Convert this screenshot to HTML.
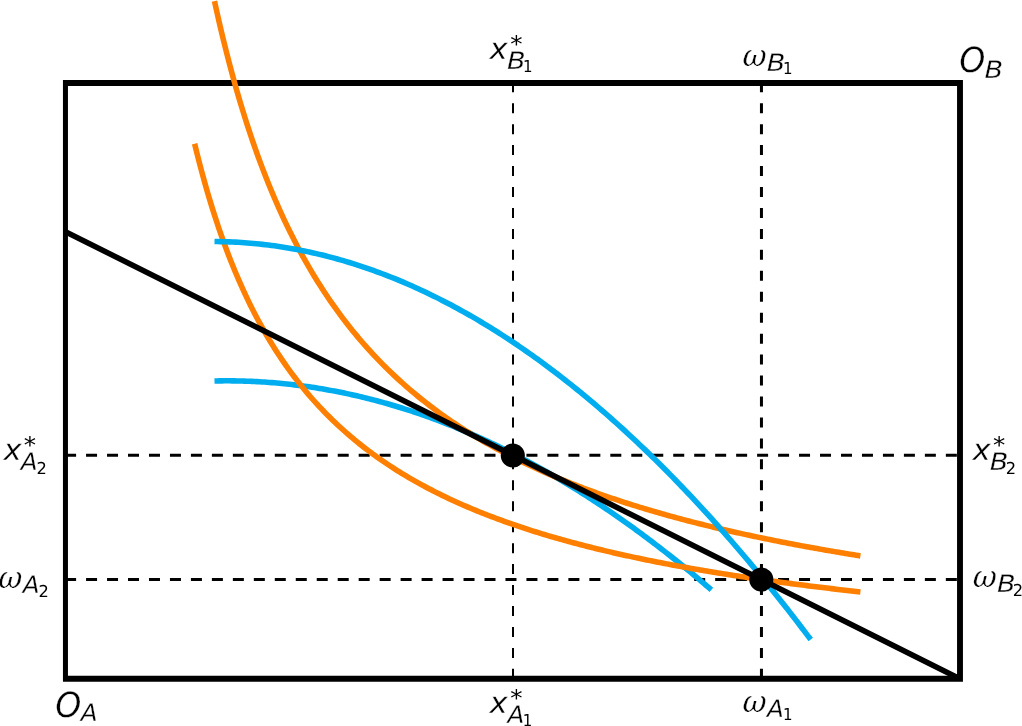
<!DOCTYPE html>
<html><head><meta charset="utf-8"><style>
html,body{margin:0;padding:0;background:#fff;width:1022px;height:726px;overflow:hidden}
svg{display:block;will-change:transform;text-rendering:geometricPrecision}

.c{fill:none;stroke-width:5.56;stroke-linejoin:round;stroke-linecap:butt}
text{font-family:"DejaVu Sans","Liberation Sans",sans-serif;fill:#000;stroke:#fff;stroke-width:0.3}
</style></head><body>
<svg width="1022" height="726" viewBox="0 0 1022 726">
<path d="M65.1,455.35H960" stroke="#000" stroke-width="3" stroke-dasharray="11 9.97" fill="none"/>
<path d="M65.1,579.4H960" stroke="#000" stroke-width="3" stroke-dasharray="11 9.97" fill="none"/>
<path d="M513,678.85V83" stroke="#000" stroke-width="2" stroke-dasharray="10 10.95" fill="none"/>
<path d="M761.45,678.85V83" stroke="#000" stroke-width="3" stroke-dasharray="10 10.95" fill="none"/>
<path d="M62.95,80.0H962.95V681.85H62.95Z M67.95,86.0V675.85H957.05V86.0Z" fill="#000" fill-rule="evenodd"/>
<path d="M214.50,380.97 L217.00,380.92 L219.50,380.88 L222.00,380.85 L224.49,380.83 L226.99,380.83 L229.49,380.83 L231.98,380.85 L234.48,380.88 L236.98,380.92 L239.47,380.97 L241.97,381.03 L244.47,381.10 L246.96,381.18 L249.46,381.27 L251.96,381.38 L254.45,381.50 L256.95,381.62 L259.45,381.76 L261.94,381.91 L264.44,382.07 L266.94,382.24 L269.43,382.43 L271.93,382.62 L274.43,382.83 L276.92,383.04 L279.42,383.27 L281.92,383.51 L284.41,383.76 L286.91,384.02 L289.41,384.29 L291.90,384.57 L294.40,384.87 L296.90,385.17 L299.39,385.49 L301.89,385.81 L304.39,386.15 L306.88,386.50 L309.38,386.86 L311.88,387.24 L314.37,387.62 L316.87,388.01 L319.37,388.42 L321.86,388.83 L324.36,389.26 L326.86,389.70 L329.35,390.15 L331.85,390.61 L334.35,391.08 L336.84,391.56 L339.34,392.06 L341.84,392.56 L344.34,393.08 L346.83,393.61 L349.33,394.14 L351.83,394.69 L354.32,395.26 L356.82,395.83 L359.32,396.41 L361.81,397.00 L364.31,397.61 L366.81,398.22 L369.30,398.85 L371.80,399.49 L374.30,400.14 L376.79,400.80 L379.29,401.47 L381.79,402.16 L384.28,402.85 L386.78,403.55 L389.28,404.27 L391.77,405.00 L394.27,405.74 L396.77,406.49 L399.26,407.25 L401.76,408.02 L404.26,408.80 L406.75,409.59 L409.25,410.40 L411.75,411.22 L414.24,412.04 L416.74,412.88 L419.24,413.73 L421.73,414.59 L424.23,415.46 L426.73,416.35 L429.22,417.24 L431.72,418.15 L434.22,419.06 L436.71,419.99 L439.21,420.93 L441.71,421.88 L444.20,422.84 L446.70,423.81 L449.20,424.79 L451.69,425.79 L454.19,426.79 L456.69,427.81 L459.18,428.83 L461.68,429.87 L464.18,430.92 L466.68,431.98 L469.17,433.05 L471.67,434.14 L474.17,435.23 L476.66,436.34 L479.16,437.45 L481.66,438.58 L484.15,439.72 L486.65,440.87 L489.15,442.03 L491.64,443.20 L494.14,444.38 L496.64,445.58 L499.13,446.78 L501.63,448.00 L504.13,449.22 L506.62,450.46 L509.12,451.71 L511.62,452.97 L514.11,454.24 L516.61,455.53 L519.11,456.82 L521.60,458.13 L524.10,459.44 L526.60,460.77 L529.09,462.11 L531.59,463.46 L534.09,464.82 L536.58,466.19 L539.08,467.57 L541.58,468.97 L544.07,470.37 L546.57,471.79 L549.07,473.21 L551.56,474.65 L554.06,476.10 L556.56,477.56 L559.05,479.03 L561.55,480.52 L564.05,482.01 L566.54,483.52 L569.04,485.03 L571.54,486.56 L574.03,488.10 L576.53,489.65 L579.03,491.21 L581.52,492.78 L584.02,494.36 L586.52,495.96 L589.02,497.56 L591.51,499.18 L594.01,500.80 L596.51,502.44 L599.00,504.09 L601.50,505.75 L604.00,507.42 L606.49,509.11 L608.99,510.80 L611.49,512.51 L613.98,514.22 L616.48,515.95 L618.98,517.69 L621.47,519.44 L623.97,521.20 L626.47,522.97 L628.96,524.75 L631.46,526.55 L633.96,528.35 L636.45,530.17 L638.95,531.99 L641.45,533.83 L643.94,535.68 L646.44,537.54 L648.94,539.41 L651.43,541.30 L653.93,543.19 L656.43,545.10 L658.92,547.01 L661.42,548.94 L663.92,550.88 L666.41,552.83 L668.91,554.79 L671.41,556.76 L673.90,558.74 L676.40,560.74 L678.90,562.74 L681.39,564.76 L683.89,566.78 L686.39,568.82 L688.88,570.87 L691.38,572.93 L693.88,575.00 L696.37,577.09 L698.87,579.18 L701.37,581.29 L703.86,583.40 L706.36,585.53 L708.86,587.67 L711.36,589.82" stroke="#00AEEF" class="c"/>
<path d="M194.63,143.78 L196.86,152.85 L199.08,161.61 L201.31,170.09 L203.54,178.29 L205.76,186.24 L207.99,193.93 L210.22,201.39 L212.44,208.62 L214.67,215.64 L216.90,222.45 L219.12,229.06 L221.35,235.49 L223.58,241.73 L225.80,247.80 L228.03,253.70 L230.26,259.45 L232.48,265.04 L234.71,270.48 L236.94,275.79 L239.16,280.95 L241.39,285.99 L243.62,290.90 L245.84,295.69 L248.07,300.36 L250.30,304.92 L252.52,309.37 L254.75,313.71 L256.98,317.96 L259.20,322.11 L261.43,326.16 L263.66,330.12 L265.88,334.00 L268.11,337.79 L270.34,341.49 L272.56,345.12 L274.79,348.67 L277.02,352.14 L279.25,355.55 L281.47,358.88 L283.70,362.14 L285.93,365.34 L288.15,368.48 L290.38,371.55 L292.61,374.56 L294.83,377.52 L297.06,380.41 L299.29,383.25 L301.51,386.04 L303.74,388.78 L305.97,391.46 L308.19,394.10 L310.42,396.69 L312.65,399.23 L314.87,401.73 L317.10,404.18 L319.33,406.59 L321.55,408.95 L323.78,411.28 L326.01,413.57 L328.23,415.82 L330.46,418.03 L332.69,420.20 L334.91,422.34 L337.14,424.44 L339.37,426.51 L341.59,428.54 L343.82,430.54 L346.05,432.51 L348.27,434.45 L350.50,436.36 L352.73,438.24 L354.95,440.09 L357.18,441.92 L359.41,443.71 L361.63,445.48 L363.86,447.22 L366.09,448.93 L368.31,450.63 L370.54,452.29 L372.77,453.93 L374.99,455.55 L377.22,457.15 L379.45,458.72 L381.67,460.27 L383.90,461.80 L386.13,463.30 L388.35,464.79 L390.58,466.26 L392.81,467.70 L395.03,469.13 L397.26,470.54 L399.49,471.92 L401.71,473.29 L403.94,474.65 L406.17,475.98 L408.39,477.30 L410.62,478.60 L412.85,479.88 L415.07,481.15 L417.30,482.40 L419.53,483.64 L421.75,484.86 L423.98,486.06 L426.21,487.25 L428.43,488.43 L430.66,489.59 L432.89,490.73 L435.11,491.87 L437.34,492.99 L439.57,494.09 L441.79,495.19 L444.02,496.27 L446.25,497.33 L448.47,498.39 L450.70,499.43 L452.93,500.46 L455.15,501.48 L457.38,502.49 L459.61,503.49 L461.83,504.47 L464.06,505.45 L466.29,506.41 L468.51,507.36 L470.74,508.30 L472.97,509.24 L475.19,510.16 L477.42,511.07 L479.65,511.97 L481.87,512.86 L484.10,513.75 L486.33,514.62 L488.55,515.48 L490.78,516.34 L493.01,517.19 L495.23,518.02 L497.46,518.85 L499.69,519.67 L501.91,520.48 L504.14,521.29 L506.37,522.08 L508.59,522.87 L510.82,523.65 L513.05,524.42 L515.27,525.19 L517.50,525.94 L519.73,526.69 L521.95,527.44 L524.18,528.17 L526.41,528.90 L528.63,529.62 L530.86,530.33 L533.09,531.04 L535.31,531.74 L537.54,532.44 L539.77,533.12 L541.99,533.80 L544.22,534.48 L546.45,535.15 L548.67,535.81 L550.90,536.47 L553.13,537.12 L555.35,537.76 L557.58,538.40 L559.81,539.03 L562.03,539.66 L564.26,540.28 L566.49,540.89 L568.71,541.51 L570.94,542.11 L573.17,542.71 L575.39,543.30 L577.62,543.89 L579.85,544.48 L582.07,545.06 L584.30,545.63 L586.53,546.20 L588.75,546.76 L590.98,547.32 L593.21,547.88 L595.43,548.43 L597.66,548.98 L599.89,549.52 L602.11,550.05 L604.34,550.59 L606.57,551.11 L608.79,551.64 L611.02,552.16 L613.25,552.67 L615.47,553.18 L617.70,553.69 L619.93,554.19 L622.15,554.69 L624.38,555.18 L626.61,555.67 L628.83,556.16 L631.06,556.64 L633.29,557.12 L635.51,557.60 L637.74,558.07 L639.97,558.54 L642.19,559.00 L644.42,559.46 L646.65,559.92 L648.87,560.38 L651.10,560.83 L653.33,561.27 L655.55,561.72 L657.78,562.16 L660.01,562.59 L662.23,563.03 L664.46,563.46 L666.69,563.89 L668.92,564.31 L671.14,564.73 L673.37,565.15 L675.60,565.56 L677.82,565.98 L680.05,566.39 L682.28,566.79 L684.50,567.19 L686.73,567.59 L688.96,567.99 L691.18,568.39 L693.41,568.78 L695.64,569.17 L697.86,569.55 L700.09,569.94 L702.32,570.32 L704.54,570.70 L706.77,571.07 L709.00,571.44 L711.22,571.81 L713.45,572.18 L715.68,572.55 L717.90,572.91 L720.13,573.27 L722.36,573.63 L724.58,573.98 L726.81,574.34 L729.04,574.69 L731.26,575.04 L733.49,575.38 L735.72,575.73 L737.94,576.07 L740.17,576.41 L742.40,576.74 L744.62,577.08 L746.85,577.41 L749.08,577.74 L751.30,578.07 L753.53,578.40 L755.76,578.72 L757.98,579.04 L760.21,579.36 L762.44,579.68 L764.66,579.99 L766.89,580.31 L769.12,580.62 L771.34,580.93 L773.57,581.24 L775.80,581.54 L778.02,581.85 L780.25,582.15 L782.48,582.45 L784.70,582.75 L786.93,583.05 L789.16,583.34 L791.38,583.63 L793.61,583.92 L795.84,584.21 L798.06,584.50 L800.29,584.79 L802.52,585.07 L804.74,585.35 L806.97,585.63 L809.20,585.91 L811.42,586.19 L813.65,586.47 L815.88,586.74 L818.10,587.01 L820.33,587.28 L822.56,587.55 L824.78,587.82 L827.01,588.09 L829.24,588.35 L831.46,588.62 L833.69,588.88 L835.92,589.14 L838.14,589.40 L840.37,589.65 L842.60,589.91 L844.82,590.16 L847.05,590.42 L849.28,590.67 L851.50,590.92 L853.73,591.16 L855.96,591.41 L858.18,591.66 L860.41,591.90" stroke="#FF7F00" class="c"/>
<path d="M214.50,1.17 L216.67,10.99 L218.83,20.53 L220.99,29.81 L223.15,38.83 L225.31,47.60 L227.47,56.14 L229.63,64.46 L231.79,72.55 L233.95,80.44 L236.11,88.13 L238.27,95.62 L240.43,102.93 L242.59,110.06 L244.75,117.01 L246.91,123.80 L249.07,130.43 L251.23,136.90 L253.39,143.23 L255.55,149.41 L257.71,155.45 L259.87,161.35 L262.03,167.13 L264.19,172.77 L266.35,178.30 L268.51,183.71 L270.67,189.00 L272.83,194.18 L274.99,199.26 L277.15,204.23 L279.31,209.10 L281.47,213.87 L283.63,218.55 L285.79,223.13 L287.95,227.63 L290.11,232.03 L292.27,236.36 L294.43,240.60 L296.59,244.76 L298.75,248.85 L300.91,252.85 L303.07,256.79 L305.23,260.65 L307.39,264.45 L309.55,268.18 L311.71,271.84 L313.88,275.44 L316.04,278.97 L318.20,282.45 L320.36,285.86 L322.52,289.22 L324.68,292.52 L326.84,295.77 L329.00,298.96 L331.16,302.10 L333.32,305.19 L335.48,308.23 L337.64,311.22 L339.80,314.16 L341.96,317.06 L344.12,319.92 L346.28,322.72 L348.44,325.49 L350.60,328.21 L352.76,330.89 L354.92,333.54 L357.08,336.14 L359.24,338.70 L361.40,341.23 L363.56,343.72 L365.72,346.17 L367.88,348.59 L370.04,350.97 L372.20,353.32 L374.36,355.64 L376.52,357.93 L378.68,360.18 L380.84,362.40 L383.00,364.59 L385.16,366.75 L387.32,368.89 L389.48,370.99 L391.64,373.07 L393.80,375.11 L395.96,377.14 L398.12,379.13 L400.28,381.10 L402.44,383.04 L404.60,384.96 L406.76,386.86 L408.92,388.73 L411.08,390.57 L413.25,392.40 L415.41,394.20 L417.57,395.98 L419.73,397.74 L421.89,399.47 L424.05,401.19 L426.21,402.88 L428.37,404.56 L430.53,406.21 L432.69,407.84 L434.85,409.46 L437.01,411.05 L439.17,412.63 L441.33,414.19 L443.49,415.73 L445.65,417.26 L447.81,418.76 L449.97,420.25 L452.13,421.73 L454.29,423.18 L456.45,424.62 L458.61,426.05 L460.77,427.46 L462.93,428.85 L465.09,430.23 L467.25,431.59 L469.41,432.94 L471.57,434.27 L473.73,435.59 L475.89,436.90 L478.05,438.19 L480.21,439.47 L482.37,440.74 L484.53,441.99 L486.69,443.23 L488.85,444.45 L491.01,445.67 L493.17,446.87 L495.33,448.06 L497.49,449.24 L499.65,450.40 L501.81,451.56 L503.97,452.70 L506.13,453.83 L508.29,454.95 L510.45,456.06 L512.62,457.16 L514.78,458.25 L516.94,459.33 L519.10,460.39 L521.26,461.45 L523.42,462.50 L525.58,463.53 L527.74,464.56 L529.90,465.58 L532.06,466.59 L534.22,467.59 L536.38,468.58 L538.54,469.56 L540.70,470.53 L542.86,471.49 L545.02,472.45 L547.18,473.39 L549.34,474.33 L551.50,475.26 L553.66,476.18 L555.82,477.09 L557.98,477.99 L560.14,478.89 L562.30,479.78 L564.46,480.66 L566.62,481.53 L568.78,482.40 L570.94,483.26 L573.10,484.11 L575.26,484.95 L577.42,485.79 L579.58,486.62 L581.74,487.44 L583.90,488.25 L586.06,489.06 L588.22,489.86 L590.38,490.66 L592.54,491.45 L594.70,492.23 L596.86,493.01 L599.02,493.78 L601.18,494.54 L603.34,495.30 L605.50,496.05 L607.66,496.79 L609.82,497.53 L611.99,498.26 L614.15,498.99 L616.31,499.71 L618.47,500.43 L620.63,501.14 L622.79,501.84 L624.95,502.54 L627.11,503.24 L629.27,503.93 L631.43,504.61 L633.59,505.29 L635.75,505.96 L637.91,506.63 L640.07,507.29 L642.23,507.95 L644.39,508.60 L646.55,509.25 L648.71,509.89 L650.87,510.53 L653.03,511.17 L655.19,511.79 L657.35,512.42 L659.51,513.04 L661.67,513.65 L663.83,514.26 L665.99,514.87 L668.15,515.47 L670.31,516.07 L672.47,516.66 L674.63,517.25 L676.79,517.84 L678.95,518.42 L681.11,519.00 L683.27,519.57 L685.43,520.14 L687.59,520.70 L689.75,521.26 L691.91,521.82 L694.07,522.37 L696.23,522.92 L698.39,523.47 L700.55,524.01 L702.71,524.55 L704.87,525.08 L707.03,525.61 L709.19,526.14 L711.36,526.66 L713.52,527.18 L715.68,527.70 L717.84,528.21 L720.00,528.72 L722.16,529.23 L724.32,529.73 L726.48,530.23 L728.64,530.73 L730.80,531.22 L732.96,531.71 L735.12,532.20 L737.28,532.68 L739.44,533.16 L741.60,533.64 L743.76,534.11 L745.92,534.59 L748.08,535.05 L750.24,535.52 L752.40,535.98 L754.56,536.44 L756.72,536.90 L758.88,537.35 L761.04,537.80 L763.20,538.25 L765.36,538.70 L767.52,539.14 L769.68,539.58 L771.84,540.02 L774.00,540.45 L776.16,540.88 L778.32,541.31 L780.48,541.74 L782.64,542.16 L784.80,542.58 L786.96,543.00 L789.12,543.42 L791.28,543.83 L793.44,544.25 L795.60,544.65 L797.76,545.06 L799.92,545.47 L802.08,545.87 L804.24,546.27 L806.40,546.66 L808.56,547.06 L810.73,547.45 L812.89,547.84 L815.05,548.23 L817.21,548.61 L819.37,549.00 L821.53,549.38 L823.69,549.76 L825.85,550.14 L828.01,550.51 L830.17,550.88 L832.33,551.25 L834.49,551.62 L836.65,551.99 L838.81,552.35 L840.97,552.71 L843.13,553.08 L845.29,553.43 L847.45,553.79 L849.61,554.14 L851.77,554.50 L853.93,554.85 L856.09,555.20 L858.25,555.54 L860.41,555.89" stroke="#FF7F00" class="c"/>
<path d="M214.50,241.54 L217.50,241.57 L220.50,241.62 L223.49,241.68 L226.49,241.77 L229.49,241.88 L232.48,242.00 L235.48,242.15 L238.47,242.32 L241.47,242.50 L244.47,242.71 L247.46,242.94 L250.46,243.18 L253.45,243.45 L256.45,243.73 L259.45,244.04 L262.44,244.37 L265.44,244.71 L268.43,245.08 L271.43,245.46 L274.43,245.87 L277.42,246.29 L280.42,246.74 L283.41,247.21 L286.41,247.69 L289.41,248.20 L292.40,248.72 L295.40,249.27 L298.40,249.83 L301.39,250.42 L304.39,251.02 L307.38,251.65 L310.38,252.29 L313.38,252.96 L316.37,253.64 L319.37,254.35 L322.36,255.07 L325.36,255.82 L328.36,256.58 L331.35,257.36 L334.35,258.17 L337.34,258.99 L340.34,259.84 L343.34,260.70 L346.33,261.58 L349.33,262.49 L352.32,263.41 L355.32,264.36 L358.32,265.32 L361.31,266.30 L364.31,267.31 L367.31,268.33 L370.30,269.37 L373.30,270.44 L376.29,271.52 L379.29,272.62 L382.29,273.75 L385.28,274.89 L388.28,276.05 L391.27,277.24 L394.27,278.44 L397.27,279.66 L400.26,280.91 L403.26,282.17 L406.25,283.45 L409.25,284.75 L412.25,286.08 L415.24,287.42 L418.24,288.78 L421.23,290.16 L424.23,291.56 L427.23,292.99 L430.22,294.43 L433.22,295.89 L436.21,297.37 L439.21,298.87 L442.21,300.40 L445.20,301.94 L448.20,303.50 L451.20,305.08 L454.19,306.68 L457.19,308.30 L460.18,309.95 L463.18,311.61 L466.18,313.29 L469.17,314.99 L472.17,316.71 L475.16,318.45 L478.16,320.21 L481.16,321.99 L484.15,323.79 L487.15,325.61 L490.14,327.45 L493.14,329.32 L496.14,331.20 L499.13,333.10 L502.13,335.02 L505.12,336.96 L508.12,338.92 L511.12,340.90 L514.11,342.90 L517.11,344.92 L520.11,346.96 L523.10,349.02 L526.10,351.10 L529.09,353.20 L532.09,355.32 L535.09,357.46 L538.08,359.62 L541.08,361.79 L544.07,363.99 L547.07,366.21 L550.07,368.45 L553.06,370.71 L556.06,372.99 L559.05,375.29 L562.05,377.61 L565.05,379.95 L568.04,382.31 L571.04,384.68 L574.03,387.08 L577.03,389.50 L580.03,391.94 L583.02,394.40 L586.02,396.88 L589.02,399.38 L592.01,401.89 L595.01,404.43 L598.00,406.99 L601.00,409.57 L604.00,412.17 L606.99,414.78 L609.99,417.42 L612.98,420.08 L615.98,422.76 L618.98,425.45 L621.97,428.17 L624.97,430.91 L627.96,433.67 L630.96,436.44 L633.96,439.24 L636.95,442.06 L639.95,444.90 L642.94,447.75 L645.94,450.63 L648.94,453.53 L651.93,456.44 L654.93,459.38 L657.92,462.34 L660.92,465.31 L663.92,468.31 L666.91,471.33 L669.91,474.36 L672.91,477.42 L675.90,480.50 L678.90,483.59 L681.89,486.71 L684.89,489.84 L687.89,493.00 L690.88,496.18 L693.88,499.37 L696.87,502.59 L699.87,505.82 L702.87,509.08 L705.86,512.35 L708.86,515.65 L711.85,518.97 L714.85,522.30 L717.85,525.66 L720.84,529.03 L723.84,532.43 L726.83,535.84 L729.83,539.28 L732.83,542.73 L735.82,546.21 L738.82,549.70 L741.82,553.22 L744.81,556.75 L747.81,560.30 L750.80,563.88 L753.80,567.47 L756.80,571.09 L759.79,574.72 L762.79,578.38 L765.78,582.05 L768.78,585.74 L771.78,589.46 L774.77,593.19 L777.77,596.95 L780.76,600.72 L783.76,604.51 L786.76,608.33 L789.75,612.16 L792.75,616.01 L795.74,619.89 L798.74,623.78 L801.74,627.69 L804.73,631.63 L807.73,635.58 L810.73,639.55" stroke="#00AEEF" class="c"/>
<line x1="65.45" y1="231.69" x2="959.78" y2="678.85" stroke="#000" stroke-width="5.56"/>
<circle cx="512.8" cy="455.45" r="12.05"/>
<circle cx="761.3" cy="579.6" r="12.05"/>
<g>
<text transform="translate(489.59,59) scale(1.029,1)" font-size="29.85" font-style="italic">x</text>
<text transform="translate(510.15,52) scale(1.079,1)" font-size="22.78" style="stroke:none">*</text>
<text transform="translate(506.90,69) scale(1.139,1)" font-size="23.89" font-style="italic">B</text>
<text transform="translate(523.04,72) scale(0.908,1)" font-size="16.54" style="stroke:none">1</text>
<text transform="translate(739.81,66) scale(0.947,1)" font-size="30.79" font-style="italic" style="font-family:'DejaVu Math TeX Gyre','DejaVu Serif',serif">ω</text>
<text transform="translate(766.84,71) scale(1.139,1)" font-size="23.89" font-style="italic">B</text>
<text transform="translate(782.88,74) scale(0.908,1)" font-size="16.54" style="stroke:none">1</text>
<text transform="translate(959.25,72) scale(0.958,1)" font-size="34.64" font-style="italic">O</text>
<text transform="translate(984.59,78) scale(1.139,1)" font-size="23.89" font-style="italic">B</text>
<text transform="translate(3.56,460) scale(1.029,1)" font-size="29.85" font-style="italic">x</text>
<text transform="translate(23.86,453) scale(1.079,1)" font-size="22.78" style="stroke:none">*</text>
<text transform="translate(20.70,470) scale(1.030,1)" font-size="23.91" font-style="italic">A</text>
<text transform="translate(36.55,474) scale(0.988,1)" font-size="16.45" style="stroke:none">2</text>
<text transform="translate(-4.49,588) scale(0.947,1)" font-size="30.79" font-style="italic" style="font-family:'DejaVu Math TeX Gyre','DejaVu Serif',serif">ω</text>
<text transform="translate(22.79,593) scale(1.030,1)" font-size="23.91" font-style="italic">A</text>
<text transform="translate(38.55,597) scale(0.988,1)" font-size="16.45" style="stroke:none">2</text>
<text transform="translate(972.56,460) scale(1.029,1)" font-size="29.85" font-style="italic">x</text>
<text transform="translate(992.88,453) scale(1.079,1)" font-size="22.78" style="stroke:none">*</text>
<text transform="translate(989.70,470) scale(1.139,1)" font-size="23.89" font-style="italic">B</text>
<text transform="translate(1005.80,474) scale(0.988,1)" font-size="16.45" style="stroke:none">2</text>
<text transform="translate(970.05,587) scale(0.947,1)" font-size="30.79" font-style="italic" style="font-family:'DejaVu Math TeX Gyre','DejaVu Serif',serif">ω</text>
<text transform="translate(996.90,592) scale(1.139,1)" font-size="23.89" font-style="italic">B</text>
<text transform="translate(1012.84,596) scale(0.988,1)" font-size="16.45" style="stroke:none">2</text>
<text transform="translate(55.31,717) scale(0.958,1)" font-size="34.64" font-style="italic">O</text>
<text transform="translate(80.66,721) scale(1.030,1)" font-size="23.91" font-style="italic">A</text>
<text transform="translate(489.56,713) scale(1.029,1)" font-size="29.85" font-style="italic">x</text>
<text transform="translate(510.15,706) scale(1.079,1)" font-size="22.78" style="stroke:none">*</text>
<text transform="translate(507.46,723) scale(1.030,1)" font-size="23.91" font-style="italic">A</text>
<text transform="translate(522.72,726) scale(0.908,1)" font-size="16.54" style="stroke:none">1</text>
<text transform="translate(739.69,712) scale(0.947,1)" font-size="30.79" font-style="italic" style="font-family:'DejaVu Math TeX Gyre','DejaVu Serif',serif">ω</text>
<text transform="translate(766.98,717) scale(1.030,1)" font-size="23.91" font-style="italic">A</text>
<text transform="translate(783.08,720) scale(0.908,1)" font-size="16.54" style="stroke:none">1</text>
</g>
</svg>
</body></html>
